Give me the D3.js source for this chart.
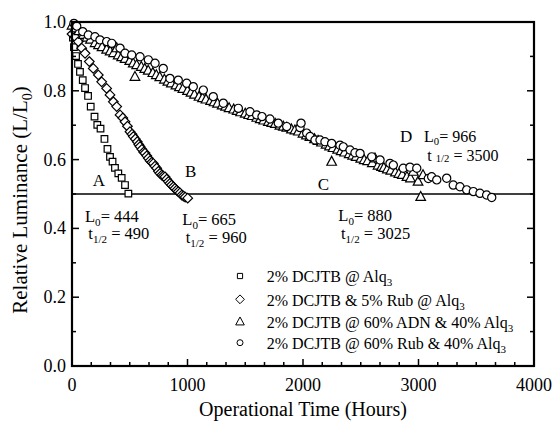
<!DOCTYPE html>
<html><head><meta charset="utf-8">
<script src="https://cdn.jsdelivr.net/npm/d3@7/dist/d3.min.js"></script>
<style>body{margin:0;background:#fff}svg{display:block}</style>
</head><body><svg id="c" width="552" height="423" font-family="'Liberation Serif', 'DejaVu Serif', 'Times New Roman', serif"></svg>
<script>
// ---- data ----
const xTicks = [0, 1000, 2000, 3000, 4000];
const yTicks = [0.0, 0.2, 0.4, 0.6, 0.8, 1.0];
const xLabel = "Operational Time (Hours)";
const yLabel = "Relative Luminance (L/L";

const seriesNames = ["2% DCJTB @ Alq", "2% DCJTB & 5% Rub @ Alq", "2% DCJTB @ 60% ADN & 40% Alq", "2% DCJTB @ 60% Rub & 40% Alq"];

const aT = [8, 17, 35, 52, 69, 93, 113, 139, 162, 195, 219, 247, 281, 307, 329, 351, 372, 401, 430, 459, 488];
const aV = [0.955, 0.927, 0.901, 0.878, 0.855, 0.831, 0.808, 0.785, 0.754, 0.725, 0.701, 0.690, 0.660, 0.631, 0.608, 0.594, 0.576, 0.560, 0.547, 0.526, 0.501];

const bT = [0, 26, 55, 84, 113, 150, 184, 228, 257, 300, 329, 358, 387, 416, 440, 459, 480, 502, 520, 531, 548, 565, 578, 589, 605, 620, 632, 647, 661, 676, 690, 704, 718, 733, 748, 762, 777, 790, 805, 820, 834, 848, 862, 877, 891, 906, 920, 935, 950, 965, 980, 1002];
const bV = [0.965, 0.957, 0.943, 0.924, 0.909, 0.885, 0.865, 0.846, 0.826, 0.807, 0.788, 0.768, 0.754, 0.730, 0.721, 0.710, 0.697, 0.681, 0.674, 0.667, 0.660, 0.652, 0.644, 0.638, 0.630, 0.622, 0.619, 0.611, 0.604, 0.597, 0.592, 0.589, 0.581, 0.575, 0.566, 0.560, 0.555, 0.552, 0.550, 0.543, 0.536, 0.531, 0.526, 0.521, 0.516, 0.511, 0.507, 0.503, 0.497, 0.494, 0.491, 0.488];

const cT = [0, 30, 60, 100, 130, 160, 200, 230, 260, 300, 330, 360, 387, 400, 430, 460, 500, 545, 530, 560, 600, 630, 660, 700, 730, 760, 800, 830, 860, 900, 930, 960, 1000, 1030, 1060, 1100, 1130, 1160, 1200, 1230, 1260, 1300, 1330, 1360, 1400, 1430, 1460, 1500, 1530, 1560, 1600, 1630, 1660, 1700, 1730, 1760, 1800, 1830, 1860, 1900, 1930, 1960, 2000, 2030, 2060, 2100, 2130, 2160, 2200, 2230, 2248, 2260, 2300, 2330, 2360, 2400, 2430, 2460, 2500, 2530, 2560, 2600, 2623, 2650, 2680, 2700, 2730, 2760, 2800, 2830, 2860, 2900, 2930, 2955, 2996, 3039, 3019];
const cV = [0.990, 0.982, 0.974, 0.963, 0.955, 0.949, 0.939, 0.933, 0.927, 0.920, 0.915, 0.910, 0.924, 0.903, 0.898, 0.893, 0.887, 0.841, 0.880, 0.875, 0.870, 0.864, 0.859, 0.852, 0.846, 0.840, 0.833, 0.827, 0.822, 0.816, 0.811, 0.806, 0.800, 0.795, 0.789, 0.783, 0.779, 0.775, 0.771, 0.767, 0.763, 0.758, 0.754, 0.750, 0.746, 0.742, 0.738, 0.734, 0.730, 0.727, 0.722, 0.718, 0.714, 0.710, 0.707, 0.704, 0.699, 0.696, 0.693, 0.688, 0.685, 0.682, 0.676, 0.671, 0.666, 0.660, 0.655, 0.650, 0.644, 0.639, 0.594, 0.634, 0.629, 0.625, 0.621, 0.616, 0.612, 0.608, 0.603, 0.599, 0.596, 0.590, 0.604, 0.583, 0.579, 0.576, 0.572, 0.568, 0.563, 0.559, 0.556, 0.550, 0.546, 0.565, 0.536, 0.555, 0.492];

const dT = [17, 41, 93, 141, 199, 242, 300, 344, 416, 459, 517, 589, 661, 719, 790, 848, 920, 993, 1050, 1137, 1223, 1310, 1440, 1541, 1599, 1645, 1714, 1786, 1859, 1974, 1983, 2032, 2061, 2104, 2147, 2190, 2248, 2320, 2349, 2407, 2450, 2494, 2595, 2667, 2753, 2782, 2868, 2926, 2985, 3085, 3114, 3158, 3244, 3301, 3359, 3417, 3475, 3532, 3590, 3634];
const dV = [0.996, 0.988, 0.972, 0.962, 0.957, 0.948, 0.943, 0.938, 0.924, 0.909, 0.904, 0.899, 0.890, 0.880, 0.865, 0.836, 0.831, 0.822, 0.812, 0.802, 0.783, 0.764, 0.749, 0.739, 0.730, 0.725, 0.718, 0.706, 0.696, 0.693, 0.706, 0.677, 0.667, 0.657, 0.657, 0.652, 0.647, 0.642, 0.637, 0.628, 0.620, 0.618, 0.608, 0.599, 0.589, 0.584, 0.575, 0.578, 0.575, 0.545, 0.550, 0.541, 0.546, 0.526, 0.521, 0.512, 0.507, 0.502, 0.497, 0.490];

const halfLife = 0.5;
const curveLetters = ["A", "B", "C", "D"];
const L0 = [444, 665, 880, 966];
const tHalf = [490, 960, 3025, 3500];

// ---- drawing ----
const svg = d3.select("#c");
const x = d3.scaleLinear().domain([0, 4000]).range([72, 534]);
const y = d3.scaleLinear().domain([0, 1]).range([366, 22]);

const shapes = {
  square: s => `M${-s},${-s}H${s}V${s}H${-s}Z`,
  diamond: s => `M0,${-s}L${s},0L0,${s}L${-s},0Z`,
  triangle: s => `M0,${-s*1.1}L${s},${s*0.75}L${-s},${s*0.75}Z`
};
function marker(g, type, s) {
  if (type === "circle") return g.append("circle").attr("r", s);
  return g.append("path").attr("d", shapes[type](s));
}

const series = [
  {t: aT, v: aV, type: "square", s: 3.3},
  {t: bT, v: bV, type: "diamond", s: 4.8},
  {t: cT, v: cV, type: "triangle", s: 4.8},
  {t: dT, v: dV, type: "circle", s: 4.1}
];

svg.append("line").attr("x1", x(0)).attr("x2", x(4000)).attr("y1", y(halfLife)).attr("y2", y(halfLife))
  .attr("stroke", "#000").attr("stroke-width", 1.5);

const plot = svg.append("g");
series.forEach(sr => {
  sr.t.forEach((t, i) => {
    const g = plot.append("g").attr("transform", `translate(${x(t)},${y(sr.v[i])})`);
    marker(g, sr.type, sr.s).attr("fill", "#fff").attr("stroke", "#000").attr("stroke-width", 1.2);
  });
});

// axes (inward ticks)
const xMinor = d3.range(0, 4001, 1000 / 6).filter(v => Math.abs(v % 1000) > 1 && Math.abs(v % 1000 - 1000) > 1);
const yMinor = [0.1, 0.3, 0.5, 0.7, 0.9];
const ax = svg.append("g").attr("stroke", "#000");
xTicks.forEach(v => ax.append("line").attr("x1", x(v)).attr("x2", x(v)).attr("y1", 366).attr("y2", 359).attr("stroke-width", 1.5));
xMinor.forEach(v => ax.append("line").attr("x1", x(v)).attr("x2", x(v)).attr("y1", 366).attr("y2", 362).attr("stroke-width", 1.5));
yTicks.forEach(v => {
  ax.append("line").attr("x1", 72).attr("x2", 79).attr("y1", y(v)).attr("y2", y(v)).attr("stroke-width", 1.5);
  ax.append("line").attr("x1", 534).attr("x2", 527).attr("y1", y(v)).attr("y2", y(v)).attr("stroke-width", 1.5);
});
yMinor.forEach(v => {
  ax.append("line").attr("x1", 72).attr("x2", 76).attr("y1", y(v)).attr("y2", y(v)).attr("stroke-width", 1.5);
  ax.append("line").attr("x1", 534).attr("x2", 530).attr("y1", y(v)).attr("y2", y(v)).attr("stroke-width", 1.5);
});
svg.append("rect").attr("x", 72).attr("y", 22).attr("width", 462).attr("height", 344)
  .attr("fill", "none").attr("stroke", "#000").attr("stroke-width", 2.2);

xTicks.forEach(v => svg.append("text").attr("x", x(v)).attr("y", 391).attr("text-anchor", "middle")
  .attr("font-size", 18).text(v));
yTicks.forEach(v => svg.append("text").attr("x", 66).attr("y", y(v) + 6).attr("text-anchor", "end")
  .attr("font-size", 18).text(v.toFixed(1)));

svg.append("text").attr("x", 303).attr("y", 416).attr("text-anchor", "middle").attr("font-size", 20).text(xLabel);
const yl = svg.append("text").attr("transform", "translate(27,200) rotate(-90)").attr("text-anchor", "middle").attr("font-size", 21);
yl.append("tspan").text(yLabel);
yl.append("tspan").attr("font-size", 14).attr("dy", 5).text("0");
yl.append("tspan").attr("dy", -5).text(")");

// annotations
function annot(px, py, main, sub, rest, gap, subDy, fs) {
  const t = svg.append("text").attr("x", px).attr("y", py).attr("font-size", fs);
  t.append("tspan").text(main + (gap ? "\u00a0" : ""));
  t.append("tspan").attr("font-size", fs * 0.67).attr("dy", subDy).text(sub);
  t.append("tspan").attr("dy", -subDy).text(rest);
}
const letterPos = [[92.7, 186], [185, 176.5], [317.7, 190], [400, 141.5]];
curveLetters.forEach((c, i) => svg.append("text").attr("x", letterPos[i][0]).attr("y", letterPos[i][1]).attr("font-size", 17).text(c));

const annPos = [[85, 222, 88.3, 239.3], [182.3, 225, 185.7, 243.3], [338.3, 220.7, 341, 239.3], [424, 141.5, 427.3, 160.5]];
L0.forEach((v, i) => {
  const p = annPos[i];
  const fs = i === 3 ? 16 : 16.5;
  annot(p[0], p[1], "L", "0", "= " + v, false, i === 3 ? 3 : 4, fs);
  annot(p[2], p[3], "t", "1/2", " = " + tHalf[i], i === 3, i === 3 ? 1 : 4, fs);
});

// legend
const legRows = [276, 299.3, 321.7, 342.7];
const legShapes = [["square", 2.6], ["diamond", 4.4], ["triangle", 4.3], ["circle", 3]];
seriesNames.forEach((n, i) => {
  const g = svg.append("g").attr("transform", `translate(240,${legRows[i]})`);
  marker(g, legShapes[i][0], legShapes[i][1]).attr("fill", "#fff").attr("stroke", "#000").attr("stroke-width", 1);
  const t = svg.append("text").attr("x", 266.7).attr("y", legRows[i] + 6.3).attr("font-size", 16);
  t.append("tspan").text(n);
  t.append("tspan").attr("font-size", 11).attr("dy", 4).text("3");
});
</script></body></html>
